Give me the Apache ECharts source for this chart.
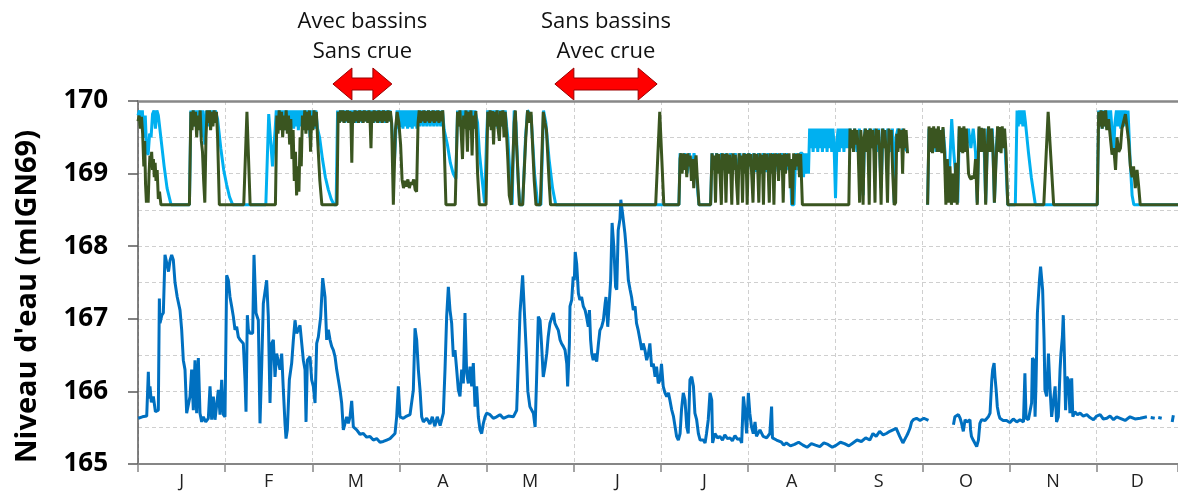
<!DOCTYPE html>
<html><head><meta charset="utf-8">
<script src="https://cdn.jsdelivr.net/npm/echarts@6/dist/echarts.min.js"></script>
<style>html,body{margin:0;padding:0;background:#fff}#c{width:1178px;height:492px}</style>
</head><body><div id="c"></div><script>
// x = day of year on a 30-day-per-month scale (equal month widths as in the source chart)
const monthLetters = ['J','F','M','A','M','J','J','A','S','O','N','D'];
const monthCenters = [15,45,75,105,135,165,195,225,255,285,315,344];
const yTicks = [165,166,167,168,169,170];

// Reservoir level, "Sans bassins" scenario (light blue)
const cyanLevel = [
[0,169.8],[0.5,169.87],[1.0,169.7],[1.5,169.87],[2.0,169.49],[2.5,169.8],[3.0,169.3],[3.5,169.26],[4.0,169.55],[4.5,169.5],[5.0,169.82],[5.5,169.87],[6.0,169.62],[6.5,169.87],[7.0,169.8],[8.0,169.45],[9.0,169.1],[10.0,168.8],[11.4,168.57],[17.7,168.57],
[18.2,169.87],[18.6,169.7],[19.0,169.87],[19.4,169.65],[19.8,169.87],[20.2,169.6],[20.6,169.87],[21.0,169.7],[21.4,169.87],[21.8,169.5],[22.2,169.87],[22.6,169.65],[23.0,169.4],[23.4,169.87],[23.8,169.7],[24.2,169.87],[24.6,169.65],[25.0,169.87],[25.4,169.7],[25.8,169.87],[26.2,169.7],[26.6,169.87],[27.4,169.75],[28.5,169.35],[29.5,169.05],[30.5,168.85],[31.5,168.68],[32.6,168.57],[44.0,168.57],[45.0,169.82],[46.3,169.1],[47.2,169.6],
[47.6,169.87],[48.0,169.65],[48.4,169.87],[48.8,169.62],[49.2,169.87],[49.6,169.65],[50.0,169.87],[50.4,169.6],[50.8,169.87],[51.2,169.65],[51.6,169.87],[52.0,169.62],[52.4,169.87],[52.8,169.65],[53.2,169.87],[53.6,169.62],[54.0,169.87],[54.4,169.65],[54.8,169.87],[55.2,169.6],[55.6,169.87],[56.0,169.65],[56.4,169.87],[56.8,169.62],[57.2,169.87],[57.6,169.65],[58.0,169.87],[58.4,169.6],[58.8,169.87],[59.2,169.5],[59.6,169.87],[60.0,169.65],[60.4,169.87],[60.8,169.62],[61.2,169.87],[61.8,169.62],[62.5,169.5],[63.5,169.2],[64.5,168.95],[65.5,168.78],[66.5,168.65],[67.5,168.57],[68.2,168.57],
[68.7,169.87],[69.2,169.7],[69.7,169.87],[70.2,169.72],[70.7,169.87],[71.2,169.7],[71.7,169.87],[72.2,169.72],[72.7,169.87],[73.2,169.7],[73.7,169.87],[74.2,169.72],[74.7,169.87],[75.2,169.7],[75.7,169.87],[76.2,169.72],[76.7,169.87],[77.2,169.7],[77.7,169.87],[78.2,169.72],[78.7,169.87],[79.2,169.7],[79.7,169.87],[80.2,169.72],[80.7,169.87],[81.2,169.7],[81.7,169.87],[82.2,169.72],[82.7,169.87],[83.2,169.7],[83.7,169.87],[84.2,169.72],[84.7,169.87],[85.2,169.7],[85.7,169.87],[86.2,169.72],[86.7,169.87],[87.3,169.7],[87.9,169.3],[88.3,169.2],[88.8,169.6],
[89.2,169.87],[89.6,169.62],[90.0,169.87],[90.4,169.64],[90.8,169.87],[91.2,169.62],[91.6,169.87],[92.0,169.65],[92.4,169.87],[92.8,169.62],[93.2,169.87],[93.6,169.64],[94.0,169.87],[94.4,169.62],[94.8,169.87],[95.2,169.65],[95.6,169.87],[96.0,169.62],[96.4,169.87],[97.0,169.65],[97.6,169.87],[98.2,169.65],[98.8,169.87],[99.4,169.65],[100.0,169.87],[100.6,169.65],[101.2,169.87],[101.8,169.65],[102.4,169.87],[103.0,169.65],[103.6,169.87],[104.2,169.65],[104.8,169.87],[105.4,169.6],[106.5,169.4],[107.5,169.15],[108.5,169.0],[109.4,168.93],
[110.0,169.87],[110.5,169.65],[111.0,169.87],[111.5,169.6],[112.0,169.87],[112.5,169.65],[113.0,169.87],[113.5,169.62],[114.0,169.87],[114.5,169.65],[115.0,169.87],[115.5,169.62],[116.0,169.87],[116.9,169.7],[117.5,169.3],[118.5,168.9],[119.3,168.6],[120.0,169.5],
[120.4,169.87],[120.9,169.65],[121.4,169.87],[121.9,169.62],[122.4,169.87],[122.9,169.65],[123.4,169.87],[123.9,169.62],[124.4,169.87],[124.9,169.65],[125.4,169.87],[125.9,169.62],[126.4,169.87],[126.9,169.65],[127.3,169.5],[128.0,169.0],[128.8,168.57],[129.5,169.87],[130.1,169.7],[131.0,168.8],[131.5,168.57],[132.4,168.57],[133.4,169.5],[134.1,169.87],[135.3,169.8],[136.5,169.0],[137.6,168.57],[138.7,168.57],[139.6,169.87],[140.4,169.7],[141.5,169.2],[142.7,168.8],[143.8,168.57],[186.2,168.57],
[186.6,169.28],[187.4,169.05],[188.2,169.28],[189.0,169.0],[189.8,169.28],[190.6,169.0],[191.4,169.28],[192.2,169.0],[192.8,168.7],[193.1,168.57],[197.1,168.57],
[197.6,169.28],[198.4,169.05],[199.2,169.28],[200.0,169.02],[200.8,169.28],[201.6,169.05],[202.4,169.28],[203.2,169.02],[204.0,169.28],[204.8,169.05],[205.6,169.28],[206.4,169.02],[207.2,169.28],[208.0,169.05],[208.8,169.28],[209.6,169.02],[210.4,169.28],[211.2,169.05],[212.0,169.28],[212.8,169.02],[213.6,169.28],[214.4,169.05],[215.2,169.28],[216.0,169.02],[216.8,169.28],[217.6,169.05],[218.4,169.28],[219.2,169.02],[220.0,169.28],[220.8,169.05],[221.6,169.28],[222.4,169.02],[223.2,169.28],[224.0,169.05],[224.5,169.2],[225.0,168.57],[225.8,168.57],[226.4,169.28],[227.2,169.05],[228.0,169.28],[228.7,169.28],[229.1,168.95],[229.5,169.28],[229.9,169.0],[230.3,169.28],[230.8,169.0],
[231.2,169.62],[231.6,169.35],[232.0,169.62],[232.4,169.3],[232.8,169.62],[233.2,169.35],[233.6,169.62],[234.0,169.3],[234.4,169.62],[234.8,169.35],[235.2,169.62],[235.6,169.3],[236.0,169.62],[236.4,169.35],[236.8,169.62],[237.2,169.3],[237.6,169.62],[238.0,169.35],[238.4,169.62],[238.8,169.3],[239.2,169.62],[239.6,169.4],[240.1,168.66],[240.6,169.45],[241.0,169.62],[241.4,169.3],[241.8,169.62],[242.2,169.35],[242.6,169.62],[243.0,169.3],[243.4,169.62],[243.8,169.35],[244.2,169.62],[244.6,169.35],
[245.1,169.62],[245.9,169.35],[246.7,169.62],[247.5,169.3],[248.3,169.62],[249.1,169.35],[249.6,168.7],[250.2,169.62],[251.0,169.3],[251.8,169.62],[252.6,169.35],[253.4,169.62],[254.2,169.3],[255.0,169.62],[255.8,168.8],[256.5,169.62],[257.3,169.35],[258.1,169.62],[258.9,169.3],[259.7,169.62],[260.3,168.6],[260.9,169.5],[261.6,169.62],[262.4,169.35],[263.2,169.62],[264.0,169.35],[264.9,169.3],[266,'-'],
[271.8,168.57],[272.3,169.62],[273.1,169.35],[273.9,169.62],[274.7,169.3],[275.5,169.62],[276.3,169.35],[277.1,169.62],[277.8,169.3],[278.3,168.7],[279.3,169.0],[280.1,169.75],[280.8,169.3],[281.5,168.95],[282.2,168.6],[282.7,169.62],[283.5,169.35],[284.3,169.62],[285.1,169.3],[285.9,169.62],[286.7,169.35],[287.5,169.62],[288.3,169.3],[288.9,168.6],[289.5,169.62],[290.3,169.35],[291.1,169.62],[291.8,168.6],[292.5,169.62],[293.3,169.35],[294.1,169.62],[294.8,168.6],[295.5,169.4],[296.1,169.62],[296.9,169.35],[297.7,169.62],[298.5,169.35],[299.4,168.57],[302.0,168.57],[302.6,169.87],[303.0,169.65],[303.4,169.87],[303.8,169.68],[304.2,169.87],[304.6,169.65],[305.0,169.87],[305.5,169.7],[306.5,169.3],[307.5,168.95],[308.9,168.57],[330.2,168.57],
[330.7,169.87],[331.1,169.65],[331.5,169.87],[331.9,169.62],[332.3,169.87],[332.7,169.65],[333.1,169.87],[333.5,169.62],[333.9,169.87],[334.3,169.65],[334.8,169.87],[335.3,169.6],[335.8,169.26],[336.3,169.7],[336.8,169.87],[337.3,169.65],[337.8,169.87],[338.3,169.62],[338.8,169.87],[339.3,169.65],[339.8,169.87],[340.3,169.7],[340.8,169.87],[341.5,169.2],[342.2,168.7],[342.8,168.57],[358,168.57]
];

// Reservoir level, "Avec bassins" scenario (dark green)
const greenLevel = [
[0,169.72],[0.4,169.8],[0.8,169.62],[1.2,169.78],[1.6,169.55],[2.0,169.1],[2.3,169.45],[2.6,168.85],[2.9,168.6],[3.2,168.8],[3.5,168.6],[3.8,169.0],[4.1,169.25],[4.4,169.1],[4.7,169.3],[5.0,169.05],[5.3,169.2],[5.6,168.95],[5.9,169.15],[6.2,168.9],[6.6,169.05],[7.0,168.65],[7.4,168.75],[7.9,168.57],[17.7,168.57],
[18.2,169.85],[18.6,169.6],[19.0,169.87],[19.4,169.65],[19.8,169.85],[20.2,169.5],[20.6,169.8],[21.0,169.6],[21.4,169.87],[21.8,169.45],[22.2,169.3],[22.6,168.9],[23.0,168.6],[23.4,169.5],[23.8,169.87],[24.2,169.7],[24.6,169.87],[25.0,169.6],[25.4,169.85],[25.8,169.65],[26.2,169.87],[26.6,169.7],[27.0,169.85],[27.4,169.5],[28.0,168.57],[36.4,168.57],[37.5,169.85],[38.6,168.57],[47.3,168.57],
[47.8,169.8],[48.2,169.55],[48.6,169.87],[49.0,169.6],[49.4,169.85],[49.8,169.5],[50.2,169.8],[50.6,169.6],[51.0,169.87],[51.4,169.55],[51.8,169.8],[52.2,169.4],[52.6,169.75],[53.0,169.2],[53.4,169.6],[53.8,168.9],[54.2,169.3],[54.6,168.7],[55.0,169.1],[55.4,168.75],[55.8,169.5],[56.2,169.1],[56.6,169.8],[57.0,169.6],[57.4,169.87],[57.8,169.55],[58.2,169.85],[58.6,169.6],[59.0,169.87],[59.4,169.3],[59.8,169.8],[60.2,169.6],[60.6,169.87],[61.0,169.65],[61.4,169.85],[61.8,169.5],[62.6,168.9],[63.3,168.57],[68.5,168.57],
[68.9,169.85],[69.3,169.7],[69.7,169.87],[70.1,169.72],[70.5,169.87],[70.9,169.7],[71.3,169.86],[71.7,169.72],[72.1,169.87],[72.5,169.7],[72.9,169.86],[73.3,169.72],[73.6,169.15],[73.9,169.85],[74.3,169.7],[74.7,169.87],[75.1,169.72],[75.5,169.86],[75.9,169.7],[76.3,169.87],[76.7,169.72],[77.1,169.86],[77.5,169.7],[77.9,169.87],[78.3,169.72],[78.7,169.86],[79.1,169.7],[79.5,169.87],[79.9,169.72],[80.2,169.35],[80.5,169.86],[80.9,169.7],[81.3,169.87],[81.7,169.72],[82.1,169.86],[82.5,169.7],[82.9,169.87],[83.3,169.72],[83.7,169.86],[84.1,169.7],[84.5,169.87],[84.9,169.72],[85.3,169.86],[85.7,169.7],[86.1,169.87],[86.5,169.72],[86.9,169.86],[87.3,169.7],[87.9,168.57],[88.6,169.6],[89.2,169.85],[89.8,169.7],[90.4,169.4],[90.9,168.92],[91.4,168.8],[91.9,168.9],[92.4,168.82],[92.9,168.92],[93.4,168.8],[93.9,168.88],[94.4,168.85],[94.9,168.92],[95.4,168.78],[95.9,168.75],
[96.4,169.7],[96.8,169.87],[97.2,169.7],[97.6,169.86],[98.0,169.72],[98.4,169.87],[98.8,169.7],[99.2,169.86],[99.6,169.72],[100.0,169.87],[100.4,169.7],[100.8,169.86],[101.2,169.72],[101.6,169.87],[102.0,169.7],[102.4,169.86],[102.8,169.72],[103.2,169.87],[103.6,169.7],[104.0,169.86],[104.4,169.72],[104.9,169.87],[105.4,169.4],[106.0,168.57],[109.2,168.57],
[110.0,169.85],[110.4,169.65],[110.8,169.87],[111.2,169.6],[111.7,169.2],[112.1,169.8],[112.5,169.62],[112.9,169.87],[113.4,169.3],[113.8,169.85],[114.2,169.6],[114.6,169.87],[115.0,169.25],[115.4,169.8],[115.8,169.62],[116.3,169.86],[116.9,169.0],[117.5,168.57],[119.8,168.57],
[120.4,169.85],[120.8,169.65],[121.2,169.87],[121.6,169.6],[122.0,169.86],[122.4,169.4],[122.8,169.85],[123.2,169.65],[123.6,169.87],[124.0,169.6],[124.4,169.45],[124.8,169.86],[125.2,169.65],[125.6,169.87],[126.0,169.5],[126.4,169.85],[126.8,169.6],[127.3,169.2],[127.8,168.7],[128.5,168.57],[129.5,169.7],[129.9,169.87],[130.3,169.4],[131.3,168.57],[132.4,168.57],[133.5,169.5],[134.1,169.87],[134.7,169.7],[135.3,169.85],[136.4,168.9],[137.0,168.57],[138.5,168.57],[139.5,169.85],[140.1,169.7],[140.6,169.6],[141.5,168.9],[142.0,168.57],[178.2,168.57],
[179.6,169.85],[181.0,168.57],[186.2,168.57],
[186.6,169.2],[186.9,169.28],[187.3,169.0],[187.7,169.28],[188.1,169.05],[188.5,169.27],[188.9,168.95],[189.3,169.28],[189.7,169.1],[190.1,169.25],[190.5,168.9],[190.9,169.2],[191.3,168.8],[191.7,169.1],[192.1,169.25],[192.5,168.95],[193.1,168.57],[197.1,168.57],
[197.6,169.28],[198.0,169.05],[198.4,169.25],[198.8,168.6],[199.2,169.28],[199.6,169.0],[200.0,169.27],[200.4,168.95],[200.8,168.57],[201.2,169.28],[201.6,169.05],[202.0,169.27],[202.4,168.6],[202.8,169.28],[203.2,169.0],[203.6,169.26],[204.0,169.1],[204.4,168.57],[204.8,169.28],[205.2,169.05],[205.6,169.26],[206.0,168.9],[206.5,168.57],[206.9,169.28],[207.3,169.1],[207.7,169.25],[208.1,168.6],[208.5,169.28],[208.9,169.0],[209.3,169.27],[209.7,168.57],[210.1,169.28],[210.5,169.1],[210.9,169.27],[211.3,168.95],[211.7,168.6],[212.1,169.28],[212.5,169.05],[212.9,169.27],[213.3,169.1],[213.7,168.6],[214.1,169.28],[214.5,169.0],[214.9,169.26],[215.3,168.57],[215.7,169.28],[216.1,169.05],[216.5,169.27],[216.9,169.1],[217.3,168.6],[217.7,169.28],[218.1,169.0],[218.5,169.27],[218.9,168.57],[219.3,169.28],[219.7,169.1],[220.1,169.27],[220.5,168.9],[220.9,169.28],[221.3,169.05],[221.7,169.26],[222.1,168.6],[222.5,169.28],[222.9,169.0],[223.3,169.27],[223.7,169.1],[224.1,169.28],[224.5,168.8],[224.9,169.2],[225.3,168.57],[225.7,169.28],[226.1,169.05],[226.5,169.27],[226.9,169.1],[227.3,169.28],[227.7,168.95],[228.1,169.27],[228.7,168.57],[244.7,168.57],
[245.1,169.62],[245.5,169.35],[245.9,169.6],[246.3,169.3],[246.7,169.62],[247.1,169.4],[247.5,169.6],[247.9,169.32],[248.4,168.6],[248.8,169.6],[249.2,169.35],[249.6,168.57],[250.0,169.5],[250.4,169.62],[250.8,169.3],[251.2,169.6],[251.7,168.57],[252.1,169.62],[252.5,169.35],[252.9,169.6],[253.3,169.3],[253.7,168.6],[254.1,169.62],[254.5,169.4],[254.9,169.6],[255.3,169.32],[255.8,168.57],[256.3,169.62],[256.7,169.35],[257.1,169.6],[257.5,169.3],[258.0,168.6],[258.5,169.62],[258.9,169.4],[259.3,169.6],[259.8,169.0],[260.3,168.57],[260.8,168.6],[261.2,169.55],[261.6,169.3],[262.0,169.62],[262.4,169.35],[262.8,169.6],[263.2,169.0],[263.6,169.62],[264.0,169.35],[264.4,169.6],[264.9,169.28],[266,'-'],
[271.8,168.57],[272.3,169.65],[272.7,169.3],[273.1,169.63],[273.5,169.28],[273.9,169.65],[274.3,169.35],[274.7,169.62],[275.1,169.3],[275.5,169.65],[275.9,169.3],[276.3,169.6],[276.7,169.28],[277.1,169.64],[277.6,169.3],[278.1,168.57],[278.6,169.2],[279.0,168.6],[279.5,169.1],[280.0,168.57],[280.5,169.0],[281.0,168.6],[281.5,169.15],[282.0,168.57],[282.7,169.65],[283.1,169.3],[283.5,169.63],[283.9,169.28],[284.3,169.65],[284.7,169.3],[285.1,169.62],[285.5,169.35],[285.9,169.0],[286.3,168.95],[286.8,168.92],[287.3,168.97],[287.8,168.93],[288.3,169.2],[288.9,168.57],[289.5,169.65],[289.9,169.3],[290.3,169.63],[290.8,169.3],[291.3,169.62],[291.8,168.57],[292.3,169.3],[292.8,169.65],[293.3,169.3],[293.8,169.62],[294.3,169.35],[294.8,168.6],[295.3,169.1],[295.9,169.65],[296.3,169.3],[296.7,169.64],[297.1,169.28],[297.5,169.65],[297.9,169.35],[298.3,169.62],[298.8,169.3],[299.4,168.57],[311.8,168.57],[313.3,169.85],[315.2,168.57],[330.2,168.57],
[330.7,169.85],[331.1,169.65],[331.5,169.87],[331.9,169.62],[332.3,169.86],[332.7,169.65],[333.1,169.87],[333.5,169.6],[334.1,169.75],[334.7,169.5],[335.3,169.26],[335.9,169.35],[336.5,169.05],[337.0,169.5],[337.6,169.3],[338.2,169.35],[338.7,169.62],[339.9,169.82],[341.0,169.45],[341.6,169.1],[342.2,168.95],[342.7,169.1],[343.3,168.8],[343.9,169.05],[344.4,168.85],[345.0,168.57],[358,168.57]
];

// River level (blue)
const riverLevel = [
[0.1,165.63],[1.5,165.65],[3.0,165.66],[3.56,166.27],[3.8,165.9],[4.13,166.07],[4.6,165.85],[5.28,165.93],[6.0,165.72],[7.0,165.74],[7.35,167.28],[7.57,166.94],[8.2,167.05],[8.72,167.08],[9.29,167.88],[9.87,167.86],[10.5,167.65],[11.0,167.8],[11.59,167.88],[12.16,167.81],[12.74,167.5],[13.5,167.3],[14.46,167.12],[15.03,166.85],[15.6,166.43],[16.18,166.3],[16.75,165.7],[17.33,165.68],[17.9,165.93],[18.47,166.3],[19.05,165.74],[19.62,166.43],[20.19,165.7],[20.77,166.46],[21.34,165.7],[21.92,165.58],[22.49,165.65],[23.3,165.58],[24.21,165.63],[24.79,166.07],[25.36,165.61],[25.94,165.93],[26.51,165.61],[27.08,165.61],[27.66,166.02],[28.23,165.68],[28.81,166.16],[29.38,165.68],[29.95,165.65],
[30.53,167.6],[31.1,167.53],[31.67,167.3],[32.25,167.17],[32.82,167.03],[33.39,166.85],[33.97,166.89],[34.54,166.75],[35.12,166.71],[36.26,166.66],[36.83,166.16],[37.18,165.72],[37.64,167.05],[37.98,166.85],[38.55,166.8],[39.47,166.8],[39.93,167.88],[40.62,167.08],[41.42,166.98],[42.0,165.56],[42.57,166.34],[43.14,167.21],[44.29,167.53],[44.86,167.03],[45.44,165.84],[46.01,166.66],[46.59,166.71],[47.16,166.2],[47.73,166.52],[48.88,166.3],[49.46,166.52],[50.03,166.02],[50.6,165.56],[50.95,165.35],[51.41,165.47],[52.1,166.16],[52.9,166.39],[53.48,166.71],[54.05,166.98],[54.62,166.8],[55.2,166.85],[55.77,166.91],[56.34,166.89],[56.92,166.43],[57.49,166.3],[57.84,165.58],[58.3,166.43],[59.21,166.48],[59.79,166.16],
[60.36,166.07],[60.94,165.84],[61.51,166.66],[62.08,166.75],[62.89,167.03],[63.58,167.56],[64.38,167.3],[64.95,166.71],[65.52,166.85],[66.1,166.71],[66.67,166.62],[67.25,166.57],[67.82,166.48],[68.39,166.3],[68.97,166.16],[69.54,166.02],[70.11,165.84],[70.69,165.47],[71.26,165.56],[71.84,165.65],[72.41,165.56],[72.98,165.65],[73.56,165.87],[74.13,165.51],[75.28,165.47],[76.4,165.41],[77.57,165.42],[78.7,165.37],[79.87,165.38],[81.0,165.33],[82.16,165.35],[83.3,165.3],[84.45,165.31],[85.6,165.33],[86.75,165.35],[88.47,165.42],[89.04,165.65],[89.62,166.07],[90.19,165.65],
[91.34,165.63],[92.5,165.66],[93.64,165.68],[94.78,166.02],[95.36,166.87],[95.93,166.71],[96.5,166.3],[97.08,166.02],[97.65,165.65],[98.22,165.58],[99.37,165.63],[100.5,165.55],[101.3,165.65],[102.2,165.52],[103.0,165.65],[104.0,165.53],[105.11,165.7],[105.68,166.3],[106.25,167.03],[106.83,167.44],[107.4,167.12],[107.97,166.94],[108.55,166.48],[109.12,166.57],[109.7,166.3],[110.27,166.02],[110.84,165.93],[111.42,166.3],[111.99,166.11],[112.56,167.08],[113.14,166.25],[113.71,166.11],[114.29,166.34],[114.86,166.07],[115.43,166.39],[116.01,165.79],[116.58,166.07],[117.15,165.65],[117.73,165.47],[118.3,165.42],[118.88,165.56],[119.45,165.65],
[120.02,165.7],[121.17,165.68],[122.3,165.63],[123.47,165.65],[124.6,165.68],[125.76,165.63],[127.5,165.66],[129.2,165.65],[130.35,165.74],[130.92,166.39],[131.5,167.08],[132.4,167.6],[133.0,167.1],[133.6,166.6],[134.2,166.0],[134.9,165.79],[136.1,165.7],[136.7,165.51],[137.2,166.16],[137.8,167.03],[138.4,166.98],[138.9,166.66],[139.5,166.2],[140.1,166.34],[140.7,166.52],[141.2,166.75],[141.8,166.94],[143.0,167.08],[143.5,166.94],[144.1,166.89],[144.7,166.84],[145.3,166.71],[145.8,166.66],[146.4,166.62],[147.0,166.57],[147.6,166.38],[147.9,166.07],[148.5,166.66],[148.7,167.17],[149.3,167.26],
[149.8,167.58],[150.2,167.53],[150.5,167.92],[151.0,167.76],[151.6,167.35],[152.1,167.26],[152.7,167.3],[153.3,167.17],[153.9,167.12],[154.4,167.03],[155.0,166.89],[155.4,167.12],[155.8,166.71],[156.2,166.52],[156.7,166.43],[157.3,166.52],[157.9,166.41],[158.5,166.66],[159.0,166.84],[159.6,166.89],[160.2,166.98],[160.8,167.21],[161.1,167.3],[161.7,166.89],[162.1,166.89],[162.7,167.53],[163.2,168.32],[163.8,167.99],[164.4,167.44],[164.8,167.4],[165.3,168.22],[165.9,168.37],[166.2,168.64],[166.8,168.45],[167.6,168.18],[168.2,167.9],[168.8,167.53],[169.4,167.4],[169.9,167.3],[170.5,167.12],[171.1,167.17],[171.6,166.94],[172.2,166.84],[172.8,166.71],[173.4,166.57],[173.9,166.66],[174.5,166.57],[175.1,166.43],[175.7,166.52],[176.2,166.66],[176.8,166.34],[177.4,166.38],[178.0,166.2],[178.5,166.34],[179.1,166.11],[179.7,166.16],
[180.2,166.38],[180.8,166.07],[181.4,165.98],[182.0,165.93],[182.6,165.98],[183.1,165.88],[183.7,165.75],[184.3,165.66],[184.9,165.51],[185.4,165.38],[186.0,165.33],[186.6,165.42],[187.1,165.75],[187.7,165.98],[188.3,165.88],[188.9,165.51],[189.4,165.42],[190.0,166.16],[190.6,166.2],[191.2,166.07],[191.7,165.7],[192.3,165.61],[192.9,165.42],[193.5,165.33],[194.6,165.33],[195.2,165.29],[195.7,165.42],[196.3,165.61],[196.9,165.98],[197.5,165.88],[197.8,165.29],[198.6,165.42],[199.5,165.36],[200.3,165.38],[201.2,165.33],[202.0,165.4],[202.9,165.35],[203.8,165.36],[204.6,165.32],[205.5,165.39],[206.4,165.34],[207.2,165.35],[207.8,165.29],[208.4,165.93],[208.9,165.75],[209.5,165.42],[210.1,165.98],[210.6,165.7],[211.2,165.51],[211.8,165.42],[212.4,165.58],[212.9,165.38],[214.1,165.47],[215.2,165.38],[216.4,165.36],[217.5,165.42],[218.1,165.79],[218.4,165.36],[219.8,165.33],
[221.5,165.3],[222.3,165.26],[223.2,165.29],[224.6,165.25],[226.0,165.27],[227.4,165.3],[228.9,165.26],[230.3,165.23],[231.8,165.28],[233.2,165.26],[234.7,165.24],[236.1,165.29],[237.5,165.27],[239.0,165.23],[240.4,165.26],[241.8,165.3],[243.2,165.28],[244.7,165.25],[246.1,165.29],[247.5,165.33],[249.0,165.31],[250.5,165.36],[251.9,165.33],[253.0,165.42],[254.1,165.38],[255.3,165.45],[256.5,165.4],[257.6,165.42],[258.8,165.45],[259.9,165.47],[261.0,165.49],[262.2,165.38],[263.3,165.29],[264.5,165.38],[265.0,165.42],[265.8,165.5],[266.3,165.58],[266.9,165.61],[268.0,165.63],[269.2,165.6],[270.5,165.63],[272.1,165.6],[276,'-'],
[280.7,165.54],[281.2,165.65],[282.4,165.68],[283.0,165.63],[283.5,165.56],[284.1,165.45],[284.7,165.61],[285.3,165.58],[286.4,165.61],[286.6,165.47],[286.9,165.38],[287.5,165.33],[288.1,165.35],[288.7,165.24],[289.3,165.33],[289.8,165.56],[290.4,165.61],[291.6,165.6],[292.7,165.65],[293.3,165.7],[293.9,166.16],[294.2,166.3],[294.7,166.39],[295.0,166.2],[295.4,166.02],[295.8,165.79],[296.3,165.68],[296.7,165.63],[297.8,165.6],[299.0,165.6],[300.1,165.57],[301.3,165.62],[302.5,165.58],[303.6,165.61],[304.8,165.58],[305.3,166.25],[305.7,165.63],[306.5,165.61],[307.6,165.84],[307.9,166.46],[308.4,166.43],[308.8,165.65],[309.1,166.07],[309.6,167.08],[310.3,167.53],[310.7,167.72],[311.1,167.74],[311.4,167.4],[311.9,166.71],[312.2,166.02],[312.8,165.93],[313.4,166.52],[313.9,166.07],[314.5,165.65],[315.1,165.65],[315.7,166.07],[316.2,165.58],[316.8,165.65],[317.4,166.3],[317.7,166.52],[318.2,166.75],[318.5,167.05],[318.9,166.48],[319.3,165.74],[319.7,166.2],[320.3,166.16],[320.8,165.7],[321.4,166.18],[321.8,165.65],[322.5,165.72],
[323.4,165.68],[324.3,165.7],[325.4,165.66],[326.6,165.68],[327.7,165.64],[328.9,165.61],[330.0,165.66],[331.2,165.68],[332.3,165.62],[333.5,165.63],[334.6,165.66],[335.8,165.61],[336.9,165.65],[338.1,165.63],[339.8,165.6],[341.5,165.65],[343.2,165.62],[345.0,165.63],[347.3,165.65],[348.0,'-'],[348.6,165.64],[350.0,165.63],[350.6,'-'],[351.2,165.64],[352.4,165.63],[354.0,'-'],[356.0,165.58],[356.4,165.67]
];

// Annotations above the plot: [start day, end day] of each double arrow
const annotations = [
  {lines: ['Avec bassins', 'Sans crue'], from: 67.1, to: 87.4},
  {lines: ['Sans bassins', 'Avec crue'], from: 143.5, to: 178.7}
];

const FONT = '"Open Sans", "Noto Sans", sans-serif';
const chart = echarts.init(document.getElementById('c'), null, {renderer: 'canvas'});
const gridColor = '#cfcfcf';

const option = {
  animation: false,
  backgroundColor: '#ffffff',
  grid: {left: 138, right: 0, top: 101, bottom: 28, containLabel: false},
  xAxis: [{
    type: 'value', min: 0, max: 358, interval: 30,
    axisLine: {show: true, lineStyle: {color: '#868686', width: 2}},
    axisTick: {show: true, length: 8, lineStyle: {color: '#868686', width: 1.5}},
    splitLine: {show: true, lineStyle: {color: gridColor, type: [4, 3], width: 1}},
    axisLabel: {
      show: true, customValues: monthCenters, margin: 9,
      fontFamily: FONT, fontSize: 18, color: '#222',
      formatter: function (v) { const i = monthCenters.indexOf(v); return i >= 0 ? monthLetters[i] : ''; }
    }
  }, {
    type: 'value', position: 'top', min: 0, max: 358,
    axisLine: {show: true, onZero: false, lineStyle: {color: '#888888', width: 2.5}},
    axisTick: {show: false}, axisLabel: {show: false}, splitLine: {show: false}
  }],
  yAxis: {
    type: 'value', min: yTicks[0], max: yTicks[yTicks.length - 1], interval: 1,
    name: "Niveau d'eau (mIGN69)", nameLocation: 'middle', nameGap: 96, nameRotate: 90,
    nameTextStyle: {fontFamily: FONT, fontSize: 29, fontWeight: 'bold', color: '#000', padding: [0, 0, 0, -28]},
    axisLine: {show: true, lineStyle: {color: '#595959', width: 1.5}},
    axisTick: {show: true, length: 10, lineStyle: {color: '#595959', width: 1.5}},
    axisLabel: {fontFamily: FONT, fontSize: 26, fontWeight: 'bold', color: '#000', margin: 30},
    splitLine: {show: true, lineStyle: {color: gridColor, type: [4, 3], width: 1}},
    minorTick: {show: false, splitNumber: 2},
    minorSplitLine: {show: true, lineStyle: {color: gridColor, type: [4, 3], width: 1}}
  },
  series: [
    {name: 'Sans bassins', type: 'line', data: cyanLevel, xAxisIndex: 0, symbol: 'none', showSymbol: false,
     connectNulls: false, lineStyle: {color: '#00B0F0', width: 3}, itemStyle: {color: '#00B0F0'}, z: 2},
    {name: 'Avec bassins', type: 'line', data: greenLevel, xAxisIndex: 0, symbol: 'none', showSymbol: false,
     connectNulls: false, lineStyle: {color: '#3A5520', width: 3}, itemStyle: {color: '#3A5520'}, z: 3},
    {name: 'Rivière', type: 'line', data: riverLevel, xAxisIndex: 0, symbol: 'none', showSymbol: false,
     connectNulls: false, lineStyle: {color: '#0070C0', width: 3}, itemStyle: {color: '#0070C0'}, z: 2}
  ]
};
chart.setOption(option);

function drawAnnotations() {
  const els = [];
  annotations.forEach(function (a) {
    const x1 = chart.convertToPixel({xAxisIndex: 0}, a.from);
    const x2 = chart.convertToPixel({xAxisIndex: 0}, a.to);
    const cx = (x1 + x2) / 2;
    els.push({type: 'text', x: cx, y: 22, style: {text: a.lines[0], fill: '#111', fontFamily: FONT, fontSize: 22, align: 'center', verticalAlign: 'middle'}});
    els.push({type: 'text', x: cx, y: 52, style: {text: a.lines[1], fill: '#111', fontFamily: FONT, fontSize: 22, align: 'center', verticalAlign: 'middle'}});
    const cy = 84, h = 19, hh = 16, sh = 6;
    els.push({type: 'polygon', shape: {points: [
      [x1, cy], [x1 + h, cy - hh], [x1 + h, cy - sh], [x2 - h, cy - sh], [x2 - h, cy - hh],
      [x2, cy], [x2 - h, cy + hh], [x2 - h, cy + sh], [x1 + h, cy + sh], [x1 + h, cy + hh]
    ]}, style: {fill: '#FF0000', stroke: '#9A0000', lineWidth: 1}});
  });
  chart.setOption({graphic: els});
}
drawAnnotations();
</script></body></html>
